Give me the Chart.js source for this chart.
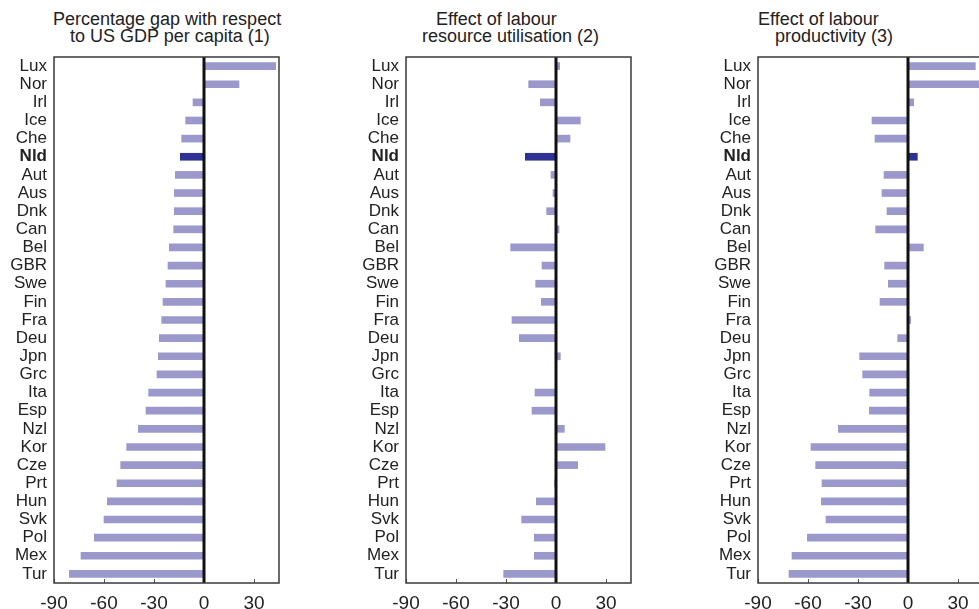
<!DOCTYPE html>
<html><head><meta charset="utf-8">
<script src="https://cdn.jsdelivr.net/npm/chart.js@4/dist/chart.umd.min.js"></script>
<style>
html,body{margin:0;padding:0;background:#fff;overflow:hidden;}
#wrap{position:relative;width:979px;height:609px;overflow:hidden;background:#fff;}
.panel{position:absolute;top:0;}
.t{position:absolute;font-family:"Liberation Sans",Arial,sans-serif;font-size:18px;line-height:20px;color:#222;white-space:nowrap;}
</style></head><body>
<div id="wrap">
  <div class="t" style="left:53px;top:9px">Percentage gap with respect</div>
  <div class="t" style="left:70px;top:26px">to US GDP per capita (1)</div>
  <div class="t" style="left:436px;top:9px">Effect of labour</div>
  <div class="t" style="left:422px;top:26px">resource utilisation (2)</div>
  <div class="t" style="left:758px;top:9px">Effect of labour</div>
  <div class="t" style="left:775px;top:26px">productivity (3)</div>
  <div class="panel" style="left:0px;width:300px;height:640px"><canvas id="c1" width="300" height="640"></canvas></div>
  <div class="panel" style="left:330px;width:320px;height:640px"><canvas id="c2" width="320" height="640"></canvas></div>
  <div class="panel" style="left:680px;width:320px;height:640px"><canvas id="c3" width="320" height="640"></canvas></div>
</div>
<script>
const countries = ['Lux','Nor','Irl','Ice','Che','Nld','Aut','Aus','Dnk','Can','Bel','GBR','Swe','Fin','Fra',
  'Deu','Jpn','Grc','Ita','Esp','Nzl','Kor','Cze','Prt','Hun','Svk','Pol','Mex','Tur'];
const gdpGap = [43, 21, -6.6, -11, -13.4, -14.2, -17.2, -17.8, -17.8, -18.2, -20.8, -21.6, -22.8, -24.6, -25.4,
  -26.8, -27.4, -28.2, -33.2, -34.8, -39.4, -46.4, -50, -52.2, -58, -60, -65.8, -73.8, -80.8];
const labourUtil = [2.2, -16.4, -9.4, 14.6, 8.4, -18.4, -3, -1.8, -5.6, 1.8, -27.2, -8.4, -12.2, -8.8, -26.4,
  -22, 2.6, 0, -12.6, -14.4, 5, 29.4, 13, -0.8, -11.8, -20.6, -13, -13, -31.4];
const labourProd = [40.4, 45, 3.4, -21.6, -19.8, 5.6, -14.4, -15.6, -12.6, -19.4, 9.2, -14, -11.8, -16.8, 1.6,
  -6.2, -29, -27.2, -23, -23.2, -41.8, -58.2, -55.4, -51.6, -52, -49.2, -60.4, -69.6, -71.4];
const xTicks = [-90, -60, -30, 0, 30];
const highlight = 'Nld';

const LIGHT = '#9d98cc', DARK = '#2e3192', TXT = '#222';
const FONT = '"Liberation Sans", Arial, sans-serif';

const framePlugin = {
  id: 'frame',
  afterDatasetsDraw(chart) {
    const {ctx, chartArea: a, scales: {x}} = chart;
    ctx.save();
    // inward ticks
    ctx.strokeStyle = '#555';
    ctx.lineWidth = 1;
    xTicks.forEach(v => {
      const px = Math.round(x.getPixelForValue(v)) + 0.5;
      ctx.beginPath(); ctx.moveTo(px, a.bottom); ctx.lineTo(px, a.bottom - 4); ctx.stroke();
    });
    // zero line
    const z = x.getPixelForValue(0);
    ctx.strokeStyle = '#111';
    ctx.lineWidth = 3;
    ctx.beginPath(); ctx.moveTo(z, a.top); ctx.lineTo(z, a.bottom); ctx.stroke();
    // frame
    ctx.strokeStyle = '#3a3a3a';
    ctx.lineWidth = 1.5;
    ctx.strokeRect(a.left, a.top, a.right - a.left, a.bottom - a.top);
    ctx.restore();
  }
};

function makeChart(id, values, yWidth, padRight) {
  new Chart(document.getElementById(id), {
    type: 'bar',
    data: {
      labels: countries,
      datasets: [{
        data: values,
        backgroundColor: countries.map(c => c === highlight ? DARK : LIGHT),
        borderWidth: 0,
        barThickness: 7
      }]
    },
    options: {
      indexAxis: 'y',
      responsive: false,
      animation: false,
      devicePixelRatio: 1,
      layout: {padding: {top: 57, bottom: 17, left: 0, right: padRight}},
      plugins: {legend: {display: false}, tooltip: {enabled: false}, title: {display: false}},
      scales: {
        x: {
          type: 'linear', min: -90, max: 45,
          afterBuildTicks: s => { s.ticks = xTicks.map(v => ({value: v})); },
          afterFit: s => { s.height = 40; },
          grid: {display: false, drawTicks: false},
          border: {display: false},
          ticks: {autoSkip: false, maxRotation: 0, padding: 9, color: TXT,
                  font: {family: FONT, size: 19}}
        },
        y: {
          type: 'category',
          afterFit: s => { s.width = yWidth; },
          grid: {display: false, drawTicks: false},
          border: {display: false},
          ticks: {autoSkip: false, padding: 7, color: TXT,
                  font: ctx => ({family: FONT, size: 17,
                    weight: countries[ctx.index] === highlight ? 'bold' : 'normal'})}
        }
      }
    },
    plugins: [framePlugin]
  });
}

makeChart('c1', gdpGap, 54, 21);
makeChart('c2', labourUtil, 76, 19);
makeChart('c3', labourProd, 78, 17);
</script>
</body></html>
